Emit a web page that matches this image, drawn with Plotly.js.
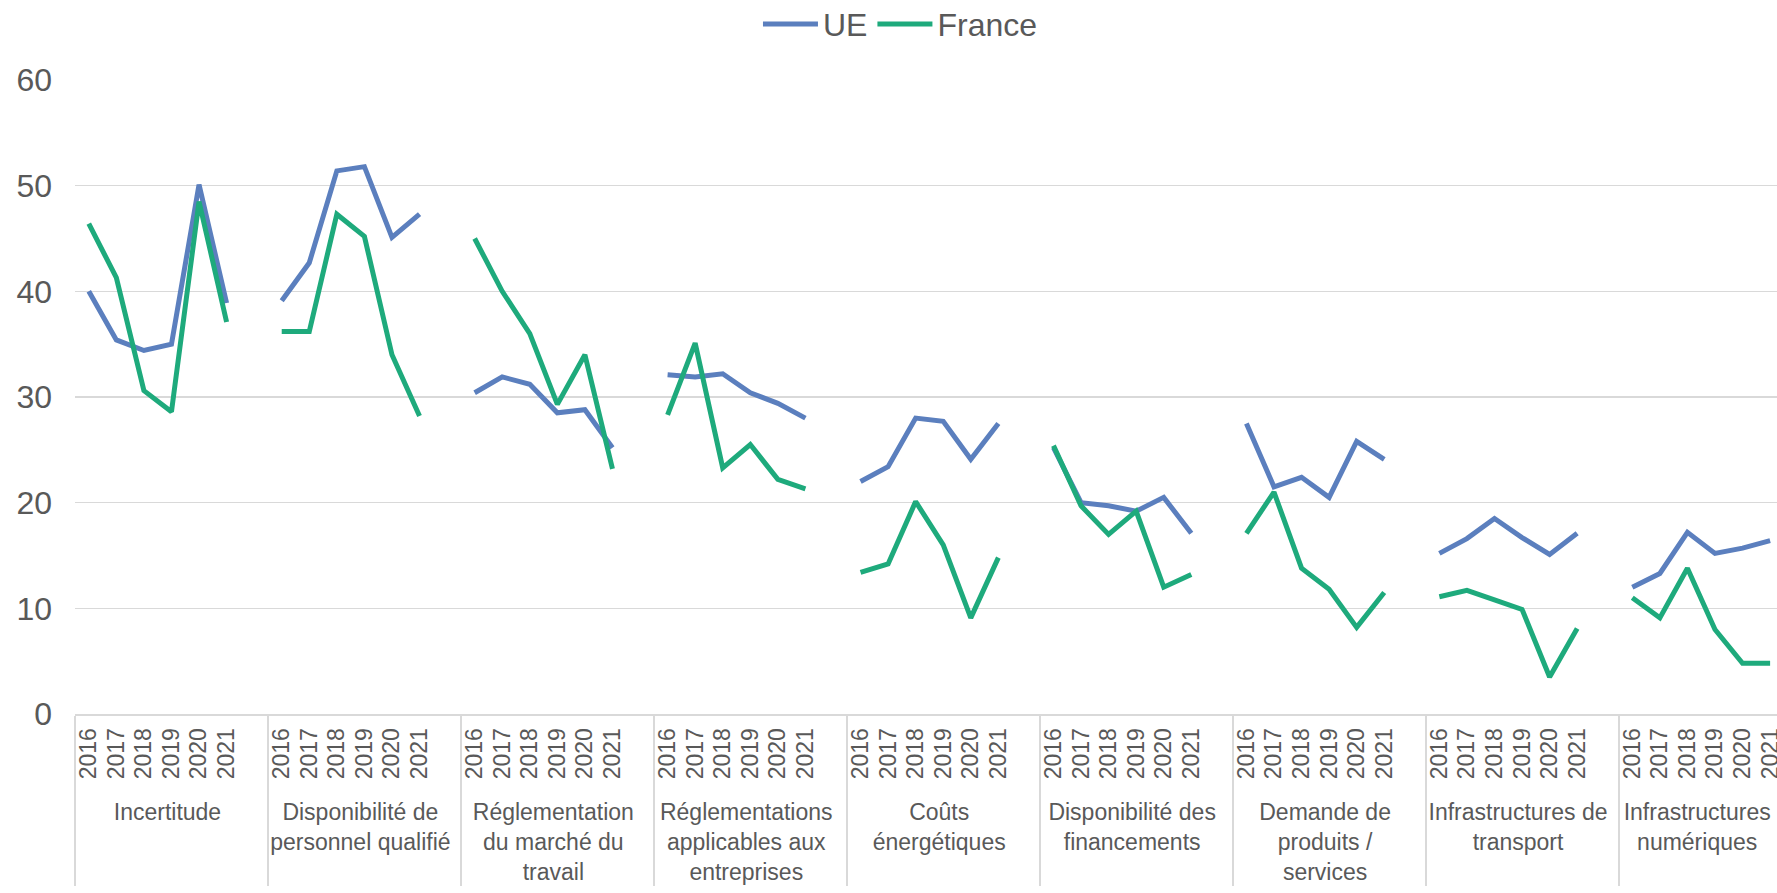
<!DOCTYPE html>
<html>
<head>
<meta charset="utf-8">
<script src="https://cdn.plot.ly/plotly-3.0.1.min.js"></script>
<style>
  html, body { margin: 0; padding: 0; background: #fff; }
  #chart { width: 1777px; height: 893px; }
</style>
</head>
<body>
<div id="chart"></div>
<script>
// obstacles a l'investissement, % des entreprises (UE vs France)
var groups = [
    "Incertitude",
    "Disponibilité de<br>personnel qualifié",
    "Réglementation<br>du marché du<br>travail",
    "Réglementations<br>applicables aux<br>entreprises",
    "Coûts<br>énergétiques",
    "Disponibilité des<br>financements",
    "Demande de<br>produits /<br>services",
    "Infrastructures de<br>transport",
    "Infrastructures<br>numériques"
];

var years = ["2016", "2017", "2018", "2019", "2020", "2021"];

// one row of 6 years per group
var ue = [
    40.0, 35.4, 34.4, 35.0, 50.1, 38.9,
    39.1, 42.7, 51.4, 51.8, 45.1, 47.3,
    30.4, 31.9, 31.2, 28.5, 28.8, 25.2,
    32.1, 31.9, 32.2, 30.4, 29.4, 28.0,
    22.0, 23.4, 28.0, 27.7, 24.1, 27.5,
    25.2, 20.0, 19.7, 19.2, 20.5, 17.1,
    27.5, 21.5, 22.4, 20.5, 25.8, 24.1,
    15.2, 16.6, 18.5, 16.7, 15.1, 17.1,
    12.0, 13.3, 17.2, 15.2, 15.7, 16.4
];

var france = [
    46.4, 41.3, 30.6, 28.6, 48.5, 37.1,
    36.2, 36.2, 47.3, 45.2, 34.0, 28.2,
    45.0, 40.0, 36.0, 29.3, 34.0, 23.2,
    28.3, 35.1, 23.3, 25.5, 22.2, 21.3,
    13.4, 14.2, 20.1, 16.0, 9.1, 14.8,
    25.4, 19.7, 17.0, 19.2, 12.0, 13.2,
    17.1, 21.0, 13.8, 11.8, 8.2, 11.5,
    11.1, 11.7, 10.8, 9.9, 3.5, 8.1,
    11.0, 9.1, 13.8, 8.0, 4.8, 4.8
];

// multicategory x, with an empty slot after each group (breaks the lines)
var xGroups = [], xYears = [], yUE = [], yFR = [];
groups.forEach(function (g, i) {
    years.forEach(function (yr, j) {
        xGroups.push(g);
        xYears.push(yr);
        yUE.push(ue[i * 6 + j]);
        yFR.push(france[i * 6 + j]);
    });
    xGroups.push(g);
    xYears.push(" ");
    yUE.push(null);
    yFR.push(null);
});

var traceUE = {
    x: [xGroups, xYears],
    y: yUE,
    name: "UE",
    type: "scatter",
    mode: "lines",
    line: { color: "#5b7fbe", width: 5 },
    connectgaps: false
};

var traceFR = {
    x: [xGroups, xYears],
    y: yFR,
    name: "France",
    type: "scatter",
    mode: "lines",
    line: { color: "#1eaa7c", width: 5 },
    connectgaps: false
};

var layout = {
    font: { family: "Liberation Sans, Arial, sans-serif", color: "#595959" },
    paper_bgcolor: "#fff",
    plot_bgcolor: "#fff",
    margin: { l: 75, r: 0, t: 80, b: 179, autoexpand: false },
    showlegend: true,
    legend: {
        orientation: "h",
        x: 0.485,
        xanchor: "center",
        y: 1.088,
        yanchor: "middle",
        itemwidth: 55,
        font: { size: 32, color: "#595959" }
    },
    xaxis: {
        type: "multicategory",
        range: [-0.5, 61.25],
        tickmode: "linear",
        tick0: 0,
        dtick: 1,
        showline: true,
        linecolor: "#d9d9d9",
        linewidth: 2,
        showdividers: true,
        dividercolor: "#d9d9d9",
        dividerwidth: 2,
        tickangle: -90,
        ticks: "",
        ticklabelstandoff: 3,
        tickfont: { size: 23, color: "#595959" },
        showgrid: false
    },
    yaxis: {
        range: [0, 60],
        dtick: 10,
        showgrid: true,
        gridcolor: "#d9d9d9",
        gridwidth: 1.5,
        zeroline: false,
        showline: false,
        ticks: "",
        ticklabelstandoff: 22,
        tickfont: { size: 32, color: "#595959" }
    }
};

Plotly.newPlot("chart", [traceUE, traceFR], layout, { displayModeBar: false, staticPlot: true });
</script>
</body>
</html>
